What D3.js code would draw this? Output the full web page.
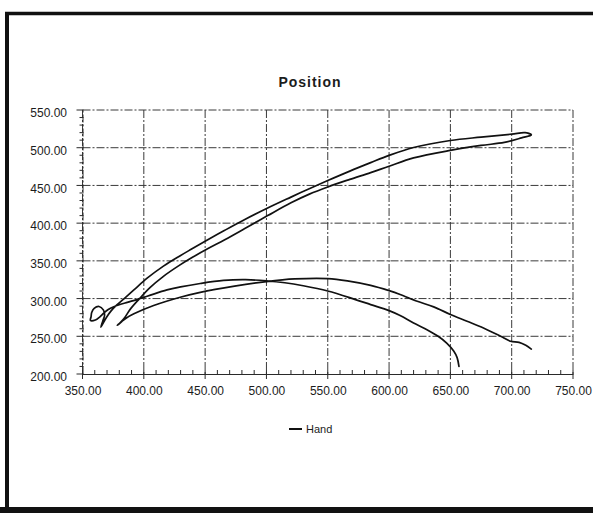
<!DOCTYPE html>
<html>
<head>
<meta charset="utf-8">
<script src="https://cdn.jsdelivr.net/npm/d3@7"></script>
<style>
  html, body { margin: 0; padding: 0; background: #fff; }
  svg { display: block; }
</style>
</head>
<body>
<svg id="chart" width="593" height="513"></svg>
<script>
// ---- data ----
const chartTitle = "Position";
const seriesName = "Hand";
const xTicks = [350, 400, 450, 500, 550, 600, 650, 700, 750];
const yTicks = [200, 250, 300, 350, 400, 450, 500, 550];

// Hand trajectory, in drawing order (one continuous trace)
const handX = [
  716, 711.5, 706, 699, 691, 677, 663.6, 650, 636.4, 623, 609, 600, 585, 566, 550, 523, 500, 474, 446, 429.7, 408, 391.9, 385.5, 382, 378.4,
  381, 384.5, 389, 396, 405, 416, 428, 440, 452, 466, 482, 501, 520, 535, 550, 568, 585, 600, 620, 650, 675, 694, 708, 716,
  711, 700, 675, 650, 620, 600, 585, 568, 550, 534, 520, 501, 482, 466, 450, 438.6, 429.7, 416, 402.7, 391.9, 384, 378, 373, 369.5, 367, 365,
  366.5, 368, 367, 363.5, 359.5, 357.5, 357, 356.5, 360.5, 364, 367.5, 371, 376, 386.5, 393, 402.7, 418.9, 430, 446, 465, 483, 500, 515, 530, 550, 572, 585, 600, 609, 620, 630.9, 640, 647, 652.7, 655.5, 657
];
const handY = [
  233, 238, 242, 243.5, 250, 261, 270, 279, 289, 296.5, 305.5, 310.5, 317.5, 323.5, 326.5, 326, 322.5, 316.5, 308.3, 301.8, 290.8, 279.8, 274, 269.5, 264.5,
  268.5, 275, 286, 299, 314.5, 329.5, 343, 355, 366, 378, 392.5, 410, 427, 438.5, 448, 458, 467, 475.5, 486.5, 496.5, 503, 507, 513, 517,
  520, 518, 514, 509.6, 500.3, 489.8, 480.2, 469, 456.5, 445, 434.5, 420, 404.5, 390.5, 376, 365.3, 356.8, 343, 327, 311.5, 300, 291.5, 283, 275, 268, 262,
  270, 278, 285, 289.5, 287, 281.5, 276, 271, 271.5, 275.5, 281, 285.5, 289.5, 295, 298, 303, 311.5, 315.5, 320, 324, 325, 323.5, 321, 317, 310, 299, 292, 284, 277.5, 267.5, 258.7, 250, 241, 230.4, 221.7, 210
];

// ---- layout ----
const svg = d3.select("#chart");
const x = d3.scaleLinear().domain([350, 750]).range([82.5, 573]);
const y = d3.scaleLinear().domain([200, 550]).range([374, 110]);
const ink = "#1c1c1c";
const labelFont = "'Liberation Sans', Arial, sans-serif";

// page frame
const frame = svg.append("g").attr("stroke", "#111").attr("fill", "none");
frame.append("line").attr("x1", 7).attr("x2", 7).attr("y1", 12).attr("y2", 513).attr("stroke-width", 4);
frame.append("line").attr("x1", 5).attr("x2", 593).attr("y1", 13.5).attr("y2", 13.5).attr("stroke-width", 3.5);
frame.append("line").attr("x1", 0).attr("x2", 593).attr("y1", 510).attr("y2", 510).attr("stroke-width", 6);

// title
svg.append("text")
  .attr("x", 310).attr("y", 87)
  .attr("text-anchor", "middle")
  .attr("font-family", labelFont)
  .attr("font-weight", "bold")
  .attr("font-size", 14)
  .attr("letter-spacing", 1)
  .attr("fill", ink)
  .text(chartTitle);

// grid (dash-dot)
const grid = svg.append("g")
  .attr("stroke", "#3a3a3a")
  .attr("stroke-width", 1)
  .attr("stroke-dasharray", "8,2,2,2");
grid.selectAll("line.h").data(yTicks.filter(d => d > 200)).join("line")
  .attr("class", "h")
  .attr("x1", x(350)).attr("x2", x(750))
  .attr("y1", d => y(d)).attr("y2", d => y(d));
grid.selectAll("line.v").data(xTicks).join("line")
  .attr("class", "v")
  .attr("x1", d => x(d)).attr("x2", d => x(d))
  .attr("y1", y(550)).attr("y2", y(200));

// minor ticks every 10 units, longer at the labelled values
const minorX = d3.range(350, 751, 10);
const minorY = d3.range(200, 551, 10);
const ticks = svg.append("g").attr("stroke", "#2a2a2a").attr("stroke-width", 1);
ticks.selectAll("line.mx").data(minorX).join("line")
  .attr("class", "mx")
  .attr("x1", d => x(d)).attr("x2", d => x(d))
  .attr("y1", y(200) - 4)
  .attr("y2", d => y(200) + (d % 50 === 0 ? 5 : 0));
ticks.selectAll("line.my").data(minorY).join("line")
  .attr("class", "my")
  .attr("x1", d => x(350) - (d % 50 === 0 ? 6 : 3)).attr("x2", x(350) + 1)
  .attr("y1", d => y(d)).attr("y2", d => y(d));

// axes with tick labels
const fmt = d3.format(".2f");
const xAxis = svg.append("g")
  .attr("transform", `translate(0,${y(200)})`)
  .call(d3.axisBottom(x).tickValues(xTicks).tickFormat(fmt).tickSize(0).tickPadding(12));
const yAxis = svg.append("g")
  .attr("transform", `translate(${x(350)},0)`)
  .call(d3.axisLeft(y).tickValues(yTicks).tickFormat(fmt).tickSize(0).tickPadding(15.5));
xAxis.select(".domain").attr("stroke", "#2a2a2a").attr("stroke-width", 1.2);
yAxis.select(".domain").attr("stroke", "#2a2a2a").attr("stroke-width", 1).attr("stroke-dasharray", "8,2,2,2");
[xAxis, yAxis].forEach(a => {
  a.selectAll("text")
    .attr("font-family", labelFont)
    .attr("font-size", 12)
    .attr("fill", ink);
});
yAxis.selectAll(".tick text").attr("dy", "0.55em");

// trajectory
const pts = handX.map((v, i) => [v, handY[i]]);
const line = d3.line()
  .x(d => x(d[0]))
  .y(d => y(d[1]))
  .curve(d3.curveCatmullRom.alpha(0.5));
svg.append("path")
  .datum(pts)
  .attr("fill", "none")
  .attr("stroke", "#111")
  .attr("stroke-width", 1.7)
  .attr("stroke-linejoin", "round")
  .attr("stroke-linecap", "round")
  .attr("d", line);

// legend
const legend = svg.append("g").attr("transform", "translate(289,429)");
legend.append("line").attr("x1", 0).attr("x2", 13).attr("y1", 0).attr("y2", 0)
  .attr("stroke", "#111").attr("stroke-width", 2);
legend.append("text")
  .attr("x", 17).attr("y", 4)
  .attr("font-family", labelFont)
  .attr("font-size", 11)
  .attr("fill", ink)
  .text(seriesName);
</script>
</body>
</html>
